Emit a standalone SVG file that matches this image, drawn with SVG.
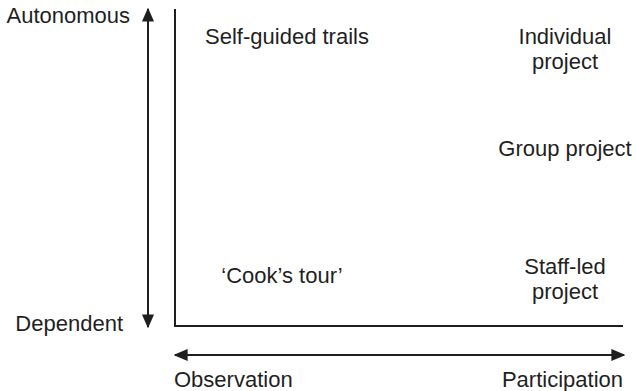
<svg xmlns="http://www.w3.org/2000/svg" width="636" height="391" viewBox="0 0 636 391">
<style>
text{font-family:"Liberation Sans",Arial,sans-serif;font-size:22px;fill:#1f1f1f}
.m{text-anchor:middle}
.ln{stroke:#1f1f1f;stroke-width:2;fill:none}
</style>
<defs>
<marker id="ah" viewBox="0 0 10 10" refX="9" refY="5" markerWidth="14" markerHeight="12" markerUnits="userSpaceOnUse" orient="auto-start-reverse" preserveAspectRatio="none">
<path d="M0,0 L10,5 L0,10 Z" fill="#1f1f1f"/>
</marker>
</defs>
<g id="connectors">
<path class="ln" d="M175,9 V326 H623"/>
<line class="ln" x1="148" y1="9" x2="148" y2="327" marker-start="url(#ah)" marker-end="url(#ah)"/>
<line class="ln" x1="175" y1="355" x2="624" y2="355" marker-start="url(#ah)" marker-end="url(#ah)"/>
</g>
<g id="axis-labels">
<text x="130" y="23" text-anchor="end">Autonomous</text>
<text x="123" y="331" text-anchor="end">Dependent</text>
<text x="174" y="387">Observation</text>
<text x="623" y="387" text-anchor="end">Participation</text>
</g>
<g id="self-guided"><text x="287" y="44" class="m">Self-guided trails</text></g>
<g id="individual"><text x="565" y="44" class="m">Individual</text><text x="565" y="69" class="m">project</text></g>
<g id="group"><text x="565" y="156" class="m">Group project</text></g>
<g id="cooks-tour"><text x="282" y="283" class="m">‘Cook’s tour’</text></g>
<g id="staff-led"><text x="565" y="274" class="m">Staff-led</text><text x="565" y="299" class="m">project</text></g>
</svg>
